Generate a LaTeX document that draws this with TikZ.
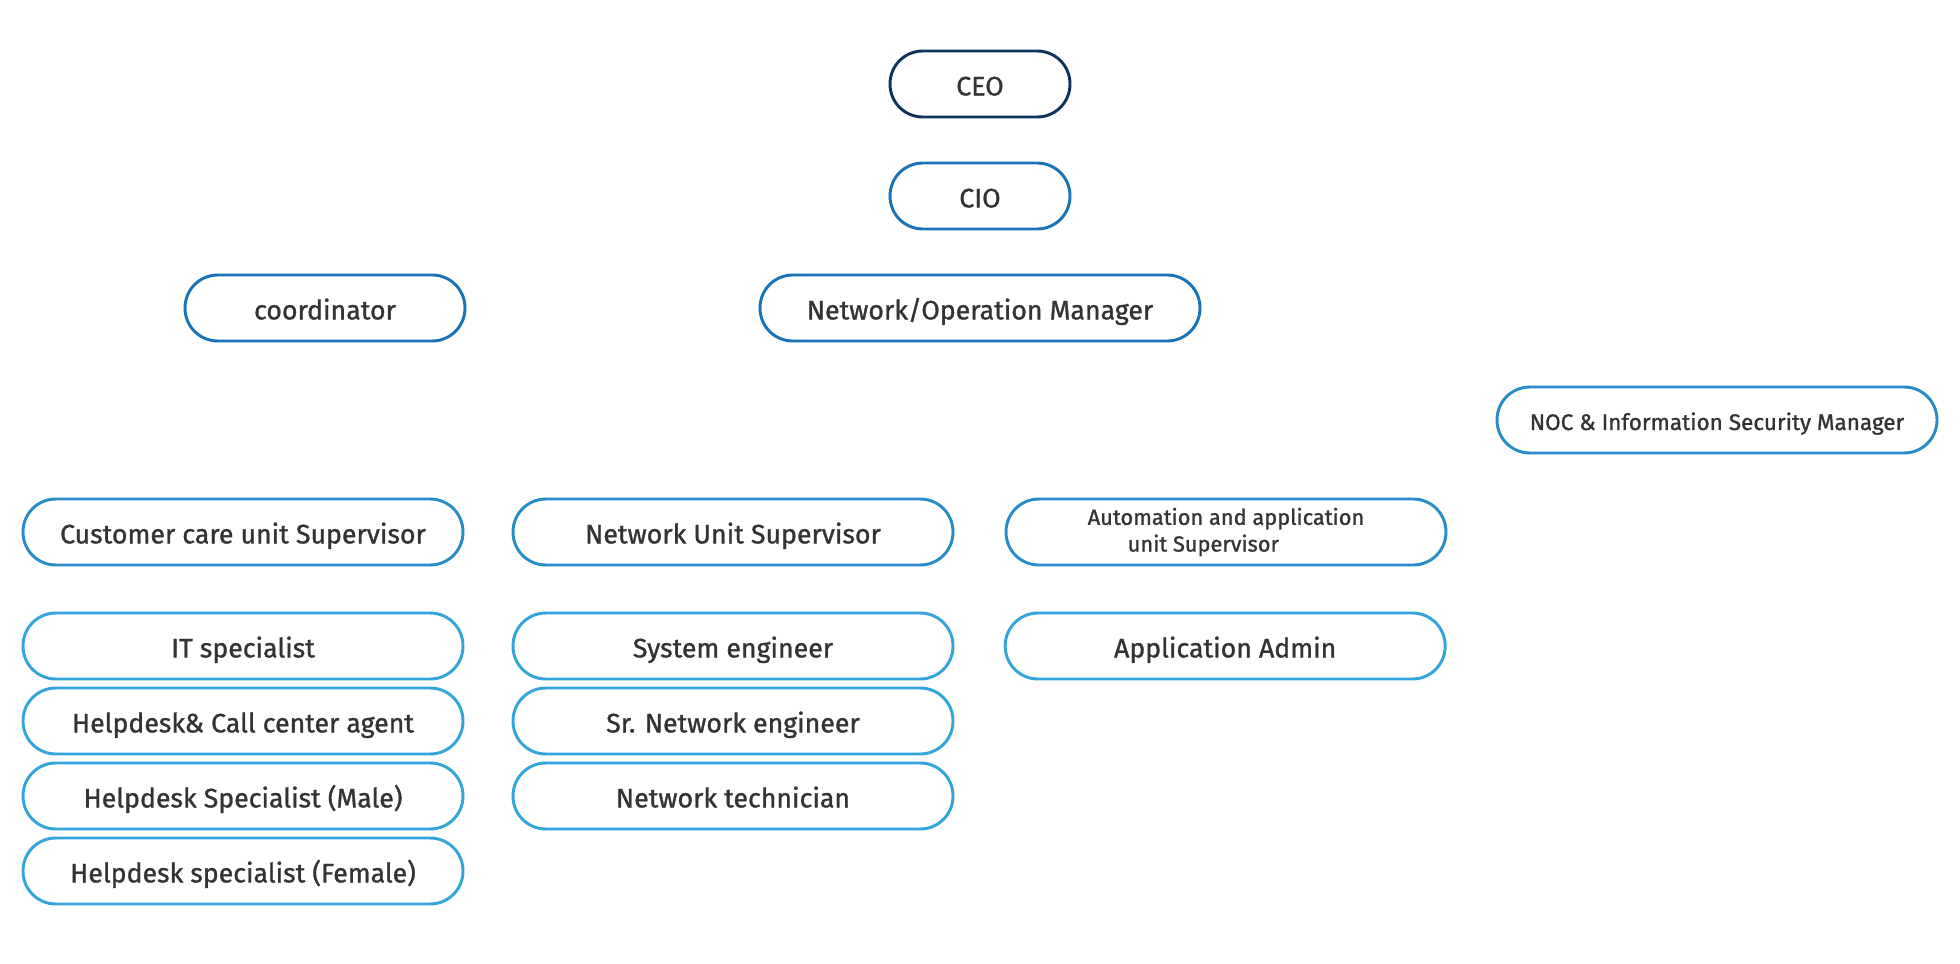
\documentclass[tikz,border=0pt]{standalone}
\usepackage{fontspec}
\setmainfont{Fira Sans}[FakeBold=1.1]
\newfontfamily\rolefont{Fira Sans}[FakeBold=1.1]
\definecolor{topblue}{RGB}{14,52,92}
\definecolor{midblue}{RGB}{26,115,184}
\definecolor{unitblue}{RGB}{40,140,200}
\definecolor{staffblue}{RGB}{52,165,218}
\definecolor{txtgray}{RGB}{51,51,51}
\tikzset{
  role/.style={draw=midblue, line width=2.1pt, rounded corners=0.82cm,
    minimum width=11cm, minimum height=1.65cm, text=txtgray,
    font=\rolefont\fontsize{19}{22}\selectfont, inner sep=0pt,
    text height=16.2pt, text depth=0pt},
  staff/.style={role, draw=staffblue},
  unit/.style={role, draw=unitblue}
}
\begin{document}
\begin{tikzpicture}
    \useasboundingbox (0,0) rectangle (49,-24.1);
    % top of the chart
    \node[role, draw=topblue, minimum width=4.5cm] (ceo) at (24.5,-2.1) {CEO};
    \node[role, minimum width=4.5cm] (cio) at (24.5,-4.9) {CIO};
    \node[role, minimum width=7cm] (coord) at (8.125,-7.7) {coordinator};
    \node[role] (netmgr) at (24.5,-7.7) {Network/Operation Manager};
    \node[unit, font=\rolefont\fontsize{16}{19}\selectfont, text height=14.2pt]
        (noc) at (42.925,-10.5) {NOC \& Information Security Manager};
    % supervisors
    \node[unit] (custsup) at (6.075,-13.3) {Customer care unit Supervisor};
    \node[unit] (netsup) at (18.325,-13.3) {Network Unit Supervisor};
    \node[unit, align=left, font=\rolefont\fontsize{15.5}{19}\selectfont,
        text height=, text depth=] (autosup) at (30.65,-13.3)
        {Automation and application\\\hspace*{1cm}unit Supervisor};
    % staff
    \foreach \name/\txt [count=\i] in {itspec/IT specialist,
        callagent/Helpdesk\& Call center agent,
        hdmale/Helpdesk Specialist (Male),
        hdfemale/Helpdesk specialist (Female)}
      \node[staff] (\name) at (6.075,-16.15-1.875*\i+1.875) {\txt};
    \foreach \name/\txt [count=\i] in {syseng/System engineer,
        srneteng/Sr. Network engineer,
        nettech/Network technician}
      \node[staff] (\name) at (18.325,-16.15-1.875*\i+1.875) {\txt};
    \node[staff] (appadmin) at (30.63,-16.15) {Application Admin};
\end{tikzpicture}
\end{document}
